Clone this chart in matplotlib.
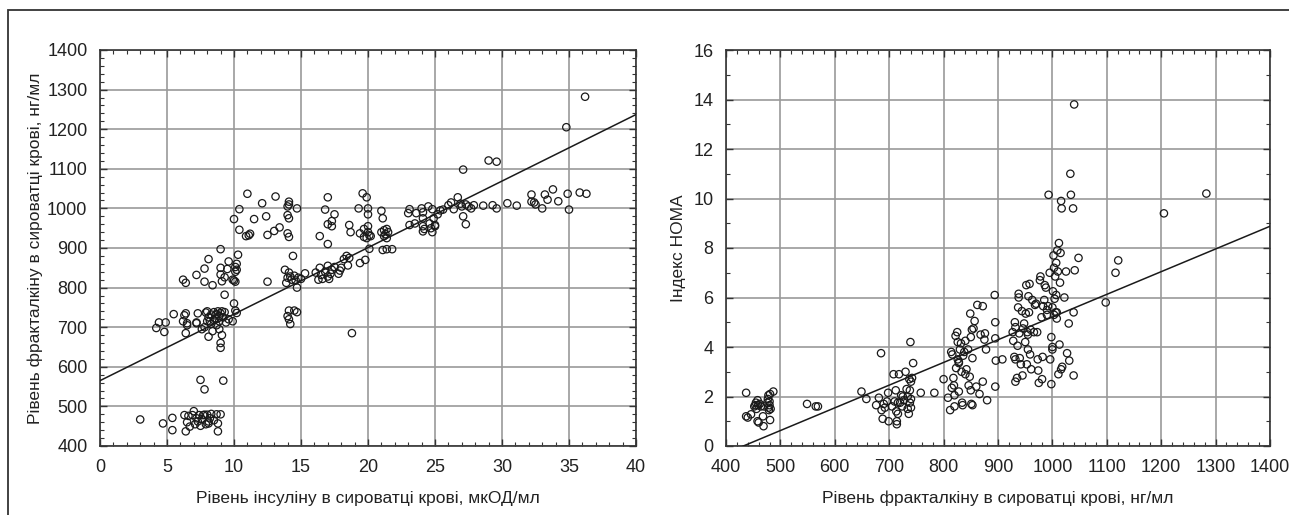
import numpy as np
import matplotlib.pyplot as plt
from matplotlib.ticker import MultipleLocator, AutoMinorLocator
from matplotlib.patches import Rectangle

# Left panel: insulin (x) vs fractalkine (y)
insulin = [
    3.0, 4.7, 5.4, 5.4, 6.3, 6.5, 6.4, 6.7, 6.9, 7.0, 7.2, 7.3, 7.4, 7.5, 7.7, 7.9, 8.0, 8.1, 8.2, 8.3,
    8.5, 8.7, 8.8, 8.8, 9.0, 7.1, 7.8, 8.1, 6.6, 7.6,
    7.5, 7.8, 9.2,
    4.2, 4.4, 4.8, 4.9, 5.5, 6.2, 6.4, 6.4, 6.5, 6.3, 6.5, 7.2, 7.3, 7.2, 7.6, 7.8, 8.0, 8.1, 8.2, 8.1,
    8.3, 8.4, 8.5, 8.6, 8.7, 8.8, 8.9, 8.9, 9.0, 9.0, 9.1, 9.0, 9.2, 9.3, 9.4, 9.6, 9.9, 10.0, 10.1, 10.2,
    8.5, 8.6, 8.3, 8.7, 8.9, 9.1, 8.0, 7.9,
    6.2, 6.4, 7.2, 7.8, 7.8, 8.1, 8.4, 9.0, 9.0, 9.0, 9.1, 9.3, 9.3, 9.5, 9.6, 9.9, 10.0, 10.1, 10.1,
    10.2, 10.3, 10.1, 10.2,
    10.0, 10.4, 10.4, 10.9, 11.0, 11.2, 11.5, 12.1, 12.4, 12.5, 13.0, 13.1, 13.4, 14.0, 14.1, 14.1, 14.0,
    14.1, 14.0, 14.1, 14.7, 11.1,
    12.5, 13.8, 13.9, 14.0, 14.1, 14.3, 14.4, 14.5, 14.6, 14.7, 14.8, 15.0, 15.3, 14.2,
    14.0, 14.1, 14.1, 14.2, 14.5, 14.7,
    16.1, 16.3, 16.4, 16.6, 16.8, 17.0, 17.0, 17.1, 17.3, 17.5, 17.8, 17.9, 18.0, 18.2, 18.4, 18.5, 18.6,
    16.5, 17.2,
    16.4, 16.8, 17.0, 17.0, 17.0, 17.3, 17.3, 17.5,
    18.6, 18.7, 19.3, 19.4, 19.6, 19.7, 19.7, 19.9, 20.0, 20.0, 20.0, 20.0, 20.1, 20.2, 19.9, 19.4, 19.8,
    20.1, 18.8,
    21.0, 21.1, 21.0, 21.2, 21.3, 21.4, 21.4, 21.1, 21.4, 21.8, 21.2, 21.5,
    23.0, 23.1, 23.1, 23.5, 23.6, 24.0, 24.1, 24.1, 24.1, 24.1, 24.2, 24.5, 24.6, 24.8, 24.8, 24.9, 25.0,
    24.7, 25.0, 25.2, 25.4,
    25.6, 26.0, 26.2, 26.4, 26.7, 26.9, 27.0, 27.1, 27.1, 27.3, 27.3, 27.5, 27.7, 27.9, 28.6,
    29.0, 29.6, 29.3, 29.6, 30.4, 31.1, 32.2, 32.2, 32.5, 32.4, 33.0, 33.2, 33.4, 33.8, 34.2, 34.8, 34.9,
    35.0, 35.8, 36.2, 36.3,
]
fractalkine_left = [
    467, 457, 471, 440, 478, 460, 437, 449, 478, 488, 470, 462, 478, 451, 478, 455, 479, 462, 470, 481,
    465, 480, 457, 437, 480, 455, 479, 457, 476, 468,
    567, 543, 565,
    698, 712, 688, 712, 733, 715, 735, 685, 710, 730, 705, 712, 735, 710, 695, 700, 740, 725, 715, 676,
    732, 690, 738, 722, 705, 740, 695, 715, 735, 660, 680, 648, 725, 738, 712, 720, 715, 760, 742, 736,
    718, 730, 708, 733, 728, 740, 715, 737,
    820, 812, 832, 848, 815, 872, 806, 897, 850, 833, 816, 826, 782, 847, 866, 820, 818, 840, 852,
    860, 883, 815, 845,
    973, 998, 946, 930, 1037, 936, 973, 1013, 980, 933, 943, 1030, 952, 1005, 1017, 1010, 983,
    975, 937, 928, 1000, 932,
    815, 845, 812, 825, 838, 820, 880, 830, 818, 800, 825, 822, 836, 828,
    728, 742, 720, 708, 742, 738,
    838, 820, 850, 822, 840, 828, 855, 822, 845, 852, 835, 843, 850, 872, 880, 856, 875,
    832, 835,
    930, 997, 1028, 960, 910, 968, 955, 985,
    958, 940, 1000, 937, 1038, 948, 928, 1028, 1000, 985, 955, 940, 932, 930, 925, 862, 870,
    898, 685,
    994, 975, 940, 945, 935, 948, 925, 895, 897, 897, 930, 940,
    988, 998, 958, 962, 988, 1000, 990, 975, 955, 942, 948, 1005, 962, 998, 940, 975, 955,
    950, 958, 985, 995,
    997, 1008, 1015, 998, 1028, 1012, 1005, 1098, 980, 960, 1010, 1005, 1000, 1008, 1007,
    1121, 1118, 1008, 1000, 1013, 1007, 1035, 1017, 1010, 1015, 1000, 1035, 1022, 1048, 1018, 1205, 1037,
    997, 1040, 1282, 1037,
]

# Right panel: fractalkine (x) vs HOMA index (y)
fractalkine_right = [
    437, 437, 440, 446, 452, 455, 456, 458, 459, 460, 462, 464, 468, 469, 470, 476, 477, 478, 478, 479,
    480, 481, 481, 487, 482, 458, 454, 480,
    549, 565, 569,
    649, 658, 676, 681, 685, 686, 688, 690, 692, 696, 698, 699, 705, 708, 710, 712, 713, 714, 714, 716,
    718, 720, 722, 724, 727, 730, 732, 734, 734, 736, 737, 738, 739, 740, 740, 740, 744, 742, 758, 783,
    716, 725, 738,
    800, 808, 812, 814, 816, 818, 819, 820, 820, 822, 823, 825, 826, 826, 828, 828, 830, 832, 833, 834,
    835, 836, 838, 840, 842, 845, 846, 848, 849, 850, 850, 851, 852, 853, 853, 855, 857, 860, 862, 866,
    868, 872, 872, 875, 876, 878, 880, 894, 895, 895, 896, 895, 908, 828, 840, 815,
    927, 928, 930, 931, 932, 932, 932, 935, 936, 937, 938, 938, 939, 940, 942, 944, 945, 946, 948, 950,
    951, 952, 953, 954, 955, 956, 957, 958, 959, 960, 961, 963, 966, 968, 970, 972, 973, 974, 975, 977,
    978, 980, 981, 982, 983, 985, 986, 988, 990, 992, 993, 995, 996, 998, 998, 1000, 1000, 1000, 1001,
    1002, 1003, 1004, 1005, 1006, 1007, 1007, 1008, 1009, 1010, 1011, 1012, 1013, 1014, 1015, 1016,
    1016, 1017, 1018, 1022, 1025, 1027, 1030, 1031, 1033, 1034, 1038, 1039, 1039, 1040, 1041, 1048,
    990, 1008, 1003, 955,
    1098, 1116, 1121, 1205, 1283,
]
homa = [
    2.15, 1.2, 1.15, 1.28, 1.6, 1.75, 1.5, 1.85, 1.65, 0.95, 1.7, 1.6, 1.2, 0.8, 1.6, 1.75, 1.9, 2.05, 1.55, 1.45,
    1.65, 2.1, 1.05, 2.2, 1.5, 1.0, 1.65, 1.8,
    1.7, 1.6, 1.6,
    2.2, 1.9, 1.65, 1.95, 3.75, 1.45, 1.1, 1.7, 1.55, 1.8, 2.15, 1.0, 1.6, 2.9, 1.8, 2.25, 1.4, 1.0, 0.88, 1.3,
    2.9, 1.75, 2.05, 1.6, 1.85, 3.0, 2.3, 2.0, 1.5, 1.3, 2.7, 2.25, 4.2, 2.6, 1.9, 1.55, 3.35, 2.75, 2.15, 2.15,
    1.75, 2.0, 1.75,
    2.7, 1.95, 1.45, 3.8, 3.7, 2.75, 2.45, 2.05, 1.6, 4.45, 3.15, 4.6, 4.2, 3.5, 3.4, 2.2, 3.9, 4.15, 3.0, 1.75,
    1.65, 3.65, 3.8, 4.25, 3.1, 3.9, 2.45, 2.8, 5.35, 4.4, 2.25, 1.7, 4.7, 3.55, 1.65, 4.75, 5.05, 2.4, 5.7, 2.1,
    4.5, 5.65, 2.6, 4.3, 4.55, 3.9, 1.85, 6.1, 5.0, 4.35, 3.45, 2.4, 3.5, 3.35, 2.9, 2.35,
    4.6, 4.25, 3.6, 5.0, 4.8, 3.5, 2.6, 2.75, 4.05, 5.6, 6.15, 6.0, 4.55, 3.55, 3.3, 5.45, 2.85, 4.75, 4.95, 4.2,
    5.35, 6.5, 3.3, 4.6, 3.9, 6.05, 5.4, 6.55, 3.7, 4.7, 3.1, 5.9, 4.6, 5.7, 5.75, 4.6, 3.5, 3.05, 2.55, 6.7,
    6.85, 5.2, 2.7, 3.6, 5.65, 5.9, 6.5, 6.4, 5.5, 5.65, 10.15, 7.0, 3.5, 2.5, 4.4, 5.6, 4.0, 3.9, 6.25,
    7.7, 7.2, 5.95, 6.85, 5.4, 7.4, 6.1, 5.15, 7.9, 7.05, 2.9, 8.2, 4.1, 6.6, 7.8, 3.1,
    9.9, 9.6, 3.2, 6.0, 7.05, 3.75, 4.95, 3.45, 11.0, 10.15, 9.6, 2.85, 5.4, 13.8, 7.1, 7.6,
    5.3, 5.4, 5.3, 4.5,
    5.8, 7.0, 7.5, 9.4, 10.2,
]

plt.rcParams['font.family'] = ['Liberation Sans', 'DejaVu Sans']
plt.rcParams['font.size'] = 12.5
text_color = '#222222'

fig = plt.figure(figsize=(12.89, 5.15), dpi=100)

# outer frame
fig.patches.append(Rectangle((8 / 1289, -0.05), 1.2, (515 - 10) / 515 + 0.05,
                             transform=fig.transFigure, fill=False,
                             edgecolor='#333333', linewidth=1.3))

ax1 = fig.add_axes([100 / 1289, 69 / 515, 536 / 1289, 396 / 515])
ax2 = fig.add_axes([726 / 1289, 69 / 515, 544 / 1289, 396 / 515])


def style(ax):
    ax.grid(True, which='major', color='#9a9a9a', linewidth=1.2)
    ax.set_axisbelow(True)
    ax.xaxis.set_minor_locator(AutoMinorLocator(5))
    ax.tick_params(which='both', direction='in', top=True, right=True,
                   colors='#333333', labelcolor=text_color)
    ax.tick_params(which='major', length=5, width=1, pad=9, labelsize=13)
    ax.tick_params(which='minor', length=3, width=0.8)
    for s in ax.spines.values():
        s.set_color('#333333')
        s.set_linewidth(1.2)


# left panel
ax1.scatter(insulin, fractalkine_left, s=28, facecolors='none', edgecolors='#1a1a1a',
            linewidths=0.9, zorder=3)
xs = np.array([0, 40])
ax1.plot(xs, 565 + 16.8 * xs, color='#1a1a1a', linewidth=1.1, zorder=4)
ax1.set_xlim(0, 40)
ax1.set_ylim(400, 1400)
ax1.xaxis.set_major_locator(MultipleLocator(5))
ax1.yaxis.set_major_locator(MultipleLocator(100))
ax1.yaxis.set_minor_locator(AutoMinorLocator(5))
style(ax1)
ax1.set_xlabel('Рівень інсуліну в сироватці крові, мкОД/мл', color=text_color, labelpad=11)
ax1.set_ylabel('Рівень фракталкіну в сироватці крові, нг/мл', color=text_color, labelpad=3)

# right panel
ax2.scatter(fractalkine_right, homa, s=28, facecolors='none', edgecolors='#1a1a1a',
            linewidths=0.9, zorder=3)
xr = np.array([400, 1400])
ax2.plot(xr, -3.96 + 0.00917 * xr, color='#1a1a1a', linewidth=1.1, zorder=4)
ax2.set_xlim(400, 1400)
ax2.set_ylim(0, 16)
ax2.xaxis.set_major_locator(MultipleLocator(100))
ax2.yaxis.set_major_locator(MultipleLocator(2))
ax2.yaxis.set_minor_locator(AutoMinorLocator(2))
style(ax2)
ax2.set_xlabel('Рівень фракталкіну в сироватці крові, нг/мл', color=text_color, labelpad=11)
ax2.set_ylabel('Індекс HOMA', color=text_color, labelpad=5)

fig.savefig('out.png', dpi=100)
